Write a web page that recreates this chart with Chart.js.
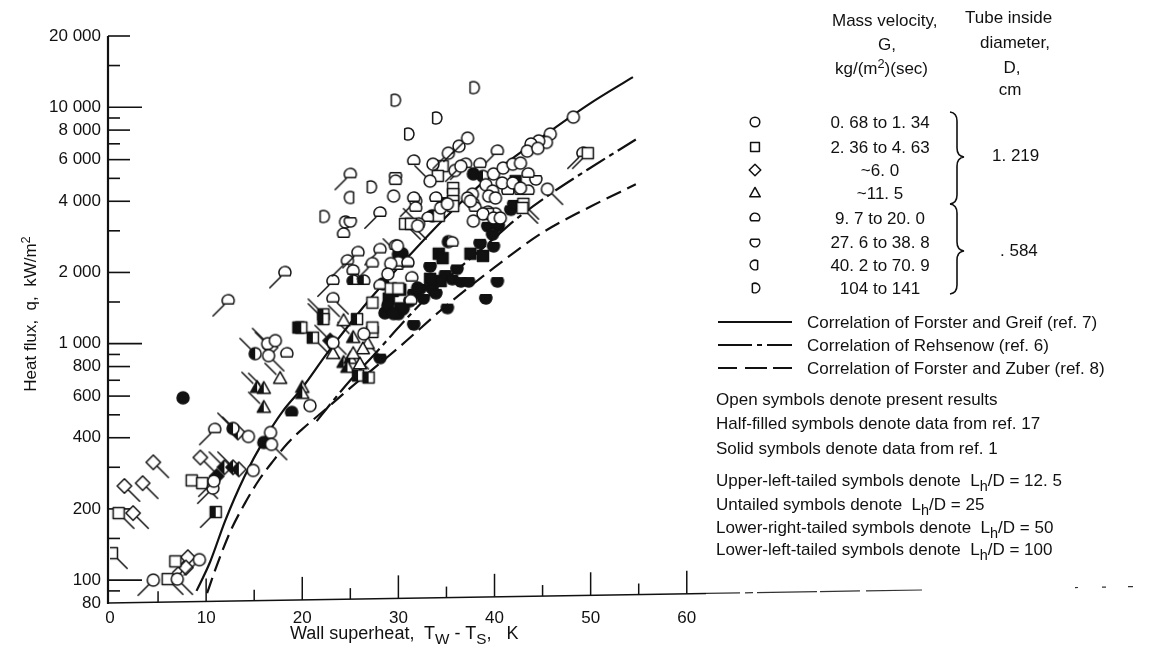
<!DOCTYPE html>
<html><head><meta charset="utf-8">
<script src="https://cdn.jsdelivr.net/npm/chart.js@4.4.1/dist/chart.umd.min.js"></script>
<style>
html,body{margin:0;padding:0;background:#fff;}
#wrap{position:relative;width:1159px;height:649px;overflow:hidden;background:#fff;}
#c{position:absolute;left:0;top:0;}
.t{position:absolute;white-space:nowrap;font-family:'Liberation Sans',Arial,sans-serif;font-size:17px;color:#111;line-height:1;}
.lc{transform:translateY(-50%);}
.cc{transform:translate(-50%,-50%);}
sub{font-size:85%;position:relative;top:0.35em;vertical-align:baseline;line-height:0;}
sup{font-size:75%;position:relative;top:-0.45em;vertical-align:baseline;line-height:0;}
svg{position:absolute;left:0;top:0;}
</style></head>
<body><div id="wrap">
<canvas id="c" width="1159" height="649"></canvas>
<svg width="1159" height="649" viewBox="0 0 1159 649">
 <g stroke="#111" stroke-width="2" fill="none">
  <line x1="718" y1="322" x2="792" y2="322"/>
  <path d="M718 345 H752 M757 345 H762 M767 345 H792"/>
  <path d="M718 368 H737 M745 368 H767 M773 368 H792"/>
  <path stroke-width="1.6" d="M950 112 Q957 113 957 121 V148 Q957 156 964 157 Q957 158 957 166 V195 Q957 203 950 204"/>
  <path stroke-width="1.6" d="M950 204 Q957 205 957 213 V242 Q957 250 964 251 Q957 252 957 260 V285 Q957 293 950 294"/>
 </g>
</svg>
<div class="t lc" style="left:832px;top:20px">Mass velocity,</div>
<div class="t cc" style="left:887px;top:44px">G,</div>
<div class="t lc" style="left:835px;top:68px">kg/(m<sup>2</sup>)(sec)</div>
<div class="t lc" style="left:965px;top:17px">Tube inside</div>
<div class="t lc" style="left:980px;top:42px">diameter,</div>
<div class="t cc" style="left:1012px;top:67px">D,</div>
<div class="t cc" style="left:1010px;top:89px">cm</div>
<div id="rows"></div>
<div class="t lc" style="left:992px;top:155px">1. 219</div>
<div class="t lc" style="left:1000px;top:250px">. 584</div>
<div class="t lc" style="left:807px;top:322px">Correlation of Forster and Greif (ref. 7)</div>
<div class="t lc" style="left:807px;top:345px">Correlation of Rehsenow (ref. 6)</div>
<div class="t lc" style="left:807px;top:368px">Correlation of Forster and Zuber (ref. 8)</div>
<div class="t lc" style="left:716px;top:399px">Open symbols denote present results</div>
<div class="t lc" style="left:716px;top:423px">Half-filled symbols denote data from ref. 17</div>
<div class="t lc" style="left:716px;top:448px">Solid symbols denote data from ref. 1</div>
<div class="t lc" style="left:716px;top:480px">Upper-left-tailed symbols denote&nbsp; L<sub>h</sub>/D = 12. 5</div>
<div class="t lc" style="left:716px;top:504px">Untailed symbols denote&nbsp; L<sub>h</sub>/D = 25</div>
<div class="t lc" style="left:716px;top:527px">Lower-right-tailed symbols denote&nbsp; L<sub>h</sub>/D = 50</div>
<div class="t lc" style="left:716px;top:549px">Lower-left-tailed symbols denote&nbsp; L<sub>h</sub>/D = 100</div>
<div class="t lc" style="left:290px;top:633px;font-size:18px">Wall superheat,&nbsp; T<sub>W</sub> - T<sub>S</sub>,&nbsp;&nbsp; K</div>
<div class="t cc" style="left:30px;top:314px;transform:translate(-50%,-50%) rotate(-90deg);font-size:17px">Heat flux,&nbsp; q,&nbsp; kW/m<sup>2</sup></div>
</div>
<script>
// ---------- data ----------
const xTickLabels = [0, 10, 20, 30, 40, 50, 60];
const xMinorTicks = [5, 15, 25, 35, 45, 55];
const yTickLabels = [80, 100, 200, 400, 600, 800, 1000, 2000, 4000, 6000, 8000, 10000, 20000];
const yMinorTicks = [90, 150, 300, 500, 700, 900, 1500, 3000, 5000, 7000, 9000, 15000];

const legendRanges = ["0. 68 to 1. 34", "2. 36 to 4. 63", "~6. 0", "~11. 5", "9. 7 to 20. 0", "27. 6 to 38. 8", "40. 2 to 70. 9", "104 to 141"];

// correlations: wall superheat (K) and heat flux (kW/m2)
const greifT = [9.0, 10.4, 12.0, 14.0, 16.0, 18.0, 20.0, 22.5, 25.0, 27.5, 30.0, 35.0, 40.0, 45.0, 50.0, 54.4];
const greifQ = [90, 119, 179, 275, 390, 520, 650, 900, 1220, 1620, 2100, 3450, 5300, 7500, 10400, 13400];
const rehsT = [21.5, 23.0, 25.0, 27.5, 30.0, 32.5, 35.0, 40.0, 42.0, 45.5, 49.7, 54.7];
const rehsQ = [470, 560, 700, 900, 1170, 1500, 1870, 2800, 3300, 4210, 5450, 7300];
const zuberT = [10.1, 11.0, 12.5, 14.0, 15.5, 17.0, 18.5, 20.0, 22.0, 25.0, 30.0, 35.0, 40.0, 45.0, 50.0, 54.7];
const zuberQ = [88, 112, 160, 210, 265, 320, 380, 435, 510, 650, 960, 1450, 2100, 2950, 3800, 4720];

// data points: [wall superheat K, heat flux kW/m2, Lh/D]
const circleOpen = [[4.5,100,100],[7.0,101,50],[9.3,122,100],[10.7,245,100],[10.8,262,100],[14.9,291,25],[14.4,405,25],[16.7,421,25],[16.8,375,50],[20.8,547,25],[16.4,1000,12.5],[17.2,1030,25],[16.5,890,50],[26.4,1100,25],[23.2,1010,25],[32.0,3150,25],[33.6,5740,25],[35.2,6390,100],[36.3,6840,100],[37.2,7400,100],[33.3,4870,12.5],[35.9,5400,25],[48.2,9080,25],[45.8,7700,25],[45.4,7100,25],[44.6,7200,25],[43.8,6990,25],[43.4,6520,25],[44.5,6700,25],[36.5,5630,100],[39.9,5220,25],[39.1,4700,25],[40.9,5530,25],[41.9,5740,25],[42.7,5800,25],[40.8,4780,25],[41.9,4780,25],[42.7,4550,25],[45.5,4500,50],[39.8,4420,25],[39.4,4210,25],[40.1,4130,25],[37.7,4290,25],[37.2,4130,25],[37.5,4010,25],[38.8,3540,25],[39.9,3400,25],[40.6,3400,25],[37.8,3300,25],[29.9,2590,25],[29.2,2180,25],[28.9,1970,25],[29.5,4210,25],[34.4,3750,25],[35.1,3900,25]];
const circleHalf = [[12.8,438,12.5],[15.1,907,12.5],[38.8,5100,25],[35.2,2700,25]];
const circleSolid = [[7.6,590,25],[16.0,382,25],[30.0,2390,12.5],[32.0,1720,25],[28.6,1350,25],[33.5,3470,25],[37.8,5220,25],[28.9,1450,25],[29.5,1340,25],[28.4,1790,25],[30.4,2400,25]];
const squareOpen = [[0.2,130,50],[0.9,192,50],[6.0,101,50],[6.8,120,25],[8.5,264,25],[9.6,257,50],[27.3,1120,25],[27.3,1170,25],[27.3,1490,25],[30.7,3210,50],[31.3,3210,50],[34.6,5630,25],[34.1,5120,25],[34.2,3470,25],[49.7,6390,100],[35.7,4550,25],[35.7,4290,25],[35.7,4010,25],[35.7,3820,25],[43.0,3900,50],[42.9,3750,50],[39.3,3540,25],[29.2,1710,25],[30.0,1710,25]];
const squareHalf = [[11.0,194,100],[19.6,1170,25],[19.9,1170,25],[21.1,1060,50],[22.2,1330,12.5],[22.2,1270,12.5],[25.8,733,25],[26.9,719,25],[25.7,1270,25]];
const squareSolid = [[29.4,1670,25],[30.2,1690,25],[29.0,1550,25],[30.2,1410,25],[42.2,4870,25],[37.5,2400,25],[38.8,2350,25],[34.2,2400,25],[34.6,2300,25],[34.4,1840,25],[33.3,1880,25]];
const diamondOpen = [[2.4,192,50],[1.5,250,50],[3.4,257,50],[4.5,315,50],[8.1,125,100],[7.9,113,100],[9.4,330,50]];
const diamondHalf = [[11.9,300,12.5],[12.8,300,12.5],[13.4,294,25],[13.3,421,12.5],[16.7,962,12.5]];
const diamondSolid = [[11.1,275,25],[22.9,1030,12.5]];
const triangleOpen = [[17.7,712,12.5],[23.2,907,25],[24.3,1250,12.5],[26.8,1000,50],[26.3,950,25],[25.3,907,50],[26.0,820,25]];
const triangleHalf = [[16.0,537,12.5],[15.3,652,12.5],[16.0,646,12.5],[20.0,652,25],[20.0,615,25],[24.3,832,12.5],[25.0,865,12.5],[24.7,793,25],[25.3,1060,12.5]];
const flatBottomOpen = [[10.9,434,100],[18.4,907,25],[12.3,1520,100],[18.2,2000,100],[23.2,1840,100],[23.2,1550,50],[24.7,2240,100],[25.8,2430,100],[28.1,2500,100],[25.3,2030,25],[27.3,2180,100],[29.7,2590,25],[29.9,2130,25],[30.9,2180,25],[28.1,1760,25],[31.4,1900,25],[31.3,1520,25],[24.3,2910,25],[25.0,5200,100],[28.1,3570,100],[29.7,4870,25],[31.6,5920,25],[31.8,4010,100],[31.8,3750,25],[33.1,3400,25],[40.3,6520,100],[49.2,6390,100],[37.0,5740,100],[38.5,5740,25],[43.5,5220,25],[41.4,4420,25],[42.7,4420,25],[43.5,4420,25],[39.3,3600,25],[33.9,4130,25],[37.8,3900,25],[38.0,3750,25],[40.1,3540,25],[35.6,2670,25],[30.0,2200,25],[31.0,2200,25],[32.1,3210,12.5],[31.6,4130,25]];
const flatBottomHalf = [[25.3,1840,25],[26.4,1840,12.5]];
const flatBottomSolid = [[18.9,512,25]];
const flatTopOpen = [[25.0,3300,25],[29.7,5120,25],[44.3,4970,25]];
const flatTopSolid = [[28.1,873,25],[31.6,1210,25],[35.1,1420,25],[41.7,3700,25],[39.3,3150,25],[40.4,3150,25],[34.7,4010,25],[42.0,3900,25],[40.3,3210,25],[39.8,2910,25],[38.5,2670,25],[39.9,2590,25],[33.3,2130,25],[36.1,2080,25],[34.9,1970,25],[35.6,1880,25],[36.5,1840,25],[37.3,1840,25],[33.5,1720,25],[32.3,1720,25],[31.6,1640,25],[32.6,1560,25],[33.9,1640,25],[31.2,1520,25],[30.5,1410,25],[30.0,1340,25],[40.3,1840,25],[39.1,1560,25]];
const flatRightOpen = [[24.5,3270,25],[25.0,4150,25]];
const flatLeftOpen = [[22.2,3450,25],[27.1,4600,25],[31.0,7700,25],[29.6,10700,25],[33.9,9000,25],[37.8,12100,25]];

// ---------- symbols ----------
const symCache = {};
function shapePath(g, shape, c, r) {
  g.beginPath();
  const a = Math.asin(0.55), b = Math.acos(0.55);
  switch (shape) {
    case 'circle': g.arc(c, c, r, 0, Math.PI * 2); break;
    case 'square': g.rect(c - r * 0.92, c - r * 0.92, r * 1.84, r * 1.84); break;
    case 'diamond': g.moveTo(c, c - r * 1.2); g.lineTo(c + r * 1.2, c); g.lineTo(c, c + r * 1.2); g.lineTo(c - r * 1.2, c); break;
    case 'triangle': g.moveTo(c, c - r * 1.15); g.lineTo(c + r * 1.1, c + r * 0.8); g.lineTo(c - r * 1.1, c + r * 0.8); break;
    case 'flatBottom': g.arc(c, c, r, a, Math.PI - a, true); break;
    case 'flatTop': g.arc(c, c, r, -a, Math.PI + a, false); break;
    case 'flatRight': g.arc(c, c, r, b, -b, false); break;
    case 'flatLeft': g.arc(c, c, r, Math.PI - b, Math.PI + b, true); break;
  }
  g.closePath();
}
function sym(shape, fill, lhd, r) {
  r = r || 6;
  const key = [shape, fill, lhd, r].join('|');
  if (symCache[key]) return symCache[key];
  const S = 48, c = S / 2;
  const cv = document.createElement('canvas');
  cv.width = S; cv.height = S;
  const g = cv.getContext('2d');
  g.lineWidth = 1.5; g.strokeStyle = '#111'; g.lineCap = 'round'; g.lineJoin = 'round';
  let tx = 0, ty = 0;
  if (lhd === 12.5) { tx = -1; ty = -1; } else if (lhd === 50) { tx = 1; ty = 1; } else if (lhd === 100) { tx = -1; ty = 1; }
  if (tx) {
    const d = r * 0.7, L = 11;
    g.beginPath(); g.moveTo(c + tx * d, c + ty * d); g.lineTo(c + tx * (d + L), c + ty * (d + L)); g.stroke();
  }
  shapePath(g, shape, c, r);
  g.fillStyle = fill === 'solid' ? '#111' : '#fff'; g.fill();
  if (fill === 'half') {
    g.save(); shapePath(g, shape, c, r); g.clip();
    g.fillStyle = '#111'; g.fillRect(c - r - 3, c - r - 3, r + 3, 2 * r + 6); g.restore();
  }
  shapePath(g, shape, c, r); g.stroke();
  symCache[key] = cv;
  return cv;
}

// ---------- legend rows ----------
const legendShapes = ['circle', 'square', 'diamond', 'triangle', 'flatBottom', 'flatTop', 'flatRight', 'flatLeft'];
const legendRowY = [122, 147, 170, 193, 218, 242, 265, 288];
const rows = document.getElementById('rows');
legendShapes.forEach((s, i) => {
  const cv = sym(s, 'open', 25, 4.8);
  const el = document.createElement('canvas');
  el.width = cv.width; el.height = cv.height;
  el.getContext('2d').drawImage(cv, 0, 0);
  el.style.cssText = `position:absolute;left:${755 - cv.width / 2}px;top:${legendRowY[i] - cv.height / 2}px;`;
  rows.appendChild(el);
  const tx = document.createElement('div');
  tx.className = 't cc'; tx.style.left = '880px'; tx.style.top = legendRowY[i] + 'px';
  tx.textContent = legendRanges[i];
  rows.appendChild(tx);
});

// ---------- chart ----------
const groups = [
  ['circle', 'open', circleOpen], ['square', 'open', squareOpen], ['diamond', 'open', diamondOpen], ['triangle', 'open', triangleOpen],
  ['flatBottom', 'open', flatBottomOpen], ['flatTop', 'open', flatTopOpen], ['flatRight', 'open', flatRightOpen], ['flatLeft', 'open', flatLeftOpen],
  ['circle', 'half', circleHalf], ['square', 'half', squareHalf], ['diamond', 'half', diamondHalf], ['triangle', 'half', triangleHalf], ['flatBottom', 'half', flatBottomHalf],
  ['circle', 'solid', circleSolid], ['square', 'solid', squareSolid], ['diamond', 'solid', diamondSolid], ['flatBottom', 'solid', flatBottomSolid], ['flatTop', 'solid', flatTopSolid]
];
const pointSets = groups.map(([shape, fill, arr]) => ({
  label: shape + ' ' + fill,
  data: arr.map(p => ({ x: p[0], y: p[1], t: p[2] })),
  pointStyle: ctx => sym(shape, fill, ctx.raw ? ctx.raw.t : 25),
  pointRadius: 6, showLine: false, order: 1
}));
function curve(label, T, Q, dash) {
  return {
    label, data: T.map((x, i) => ({ x, y: Q[i] })), showLine: true, pointRadius: 0,
    borderColor: '#111', borderWidth: 2.2, borderDash: dash, cubicInterpolationMode: 'monotone', order: 10
  };
}
const curveSets = [
  curve('Forster and Greif', greifT, greifQ, []),
  curve('Rehsenow', rehsT, rehsQ, [22, 5, 5, 5]),
  curve('Forster and Zuber', zuberT, zuberQ, [16, 7])
];
const tickFont = { family: "'Liberation Sans',Arial,sans-serif", size: 17 };
const fmt = v => v >= 1000 ? Math.floor(v / 1000) + ' ' + String(v % 1000).padStart(3, '0') : String(v);

const axesPlugin = {
  id: 'axesPlugin',
  beforeDatasetsDraw(chart) {
    const { ctx, chartArea: a, scales: { x, y } } = chart;
    const line = (x1, y1, x2, y2) => { ctx.beginPath(); ctx.moveTo(x1, y1); ctx.lineTo(x2, y2); ctx.stroke(); };
    ctx.save(); ctx.strokeStyle = '#111';
    const ax = a.left - 2;
    ctx.lineWidth = 2.2; line(ax, a.top, ax, a.bottom + 1);
    ctx.lineWidth = 1.6;
    yTickLabels.forEach(v => { if (v === y.min) return; const p = y.getPixelForValue(v); const len = (v === 100 || v === 1000 || v === 10000) ? 34 : 22; line(ax, p, ax + len, p); });
    yMinorTicks.forEach(v => { const p = y.getPixelForValue(v); line(ax, p, ax + 12, p); });
    const tilt = -0.016;
    const ay = px => a.bottom + (px - ax) * tilt;
    ctx.lineWidth = 1.5; line(ax, a.bottom, a.right, ay(a.right));
    xTickLabels.forEach(v => { if (v === 0) return; const p = x.getPixelForValue(v); line(p, ay(p), p, ay(p) - 23); });
    xMinorTicks.forEach(v => { const p = x.getPixelForValue(v); line(p, ay(p), p, ay(p) - 11); });
    ctx.lineWidth = 1.2; ctx.strokeStyle = '#333';
    ctx.setLineDash([34, 5, 8, 4, 60, 3, 40, 6, 70, 5]);
    line(a.right, ay(a.right), 922, ay(922));
    ctx.setLineDash([3, 24, 4, 22, 5, 28]);
    line(1075, ay(1075), 1145, ay(1145));
    ctx.restore();
  }
};

new Chart(document.getElementById('c'), {
  type: 'scatter',
  data: { datasets: [...pointSets, ...curveSets] },
  options: {
    responsive: false, animation: false, devicePixelRatio: 1, events: [],
    layout: { padding: { left: 0, top: 36, right: 453, bottom: 0 } },
    plugins: { legend: { display: false }, tooltip: { enabled: false } },
    scales: {
      x: {
        type: 'linear', min: 0, max: 62,
        border: { display: false }, grid: { display: false, drawTicks: false },
        ticks: { font: tickFont, color: '#111', padding: 5, maxRotation: 0, autoSkip: false, callback: v => String(v) },
        afterBuildTicks: s => { s.ticks = xTickLabels.map(v => ({ value: v })); },
        afterFit: s => { s.height = 46; }
      },
      y: {
        type: 'logarithmic', min: 80, max: 20000,
        border: { display: false }, grid: { display: false, drawTicks: false },
        ticks: { font: tickFont, color: '#111', padding: 9, autoSkip: false, callback: v => fmt(v) },
        afterBuildTicks: s => { s.ticks = yTickLabels.map(v => ({ value: v })); },
        afterFit: s => { s.width = 110; }
      }
    }
  },
  plugins: [axesPlugin]
});
</script>
</body></html>
